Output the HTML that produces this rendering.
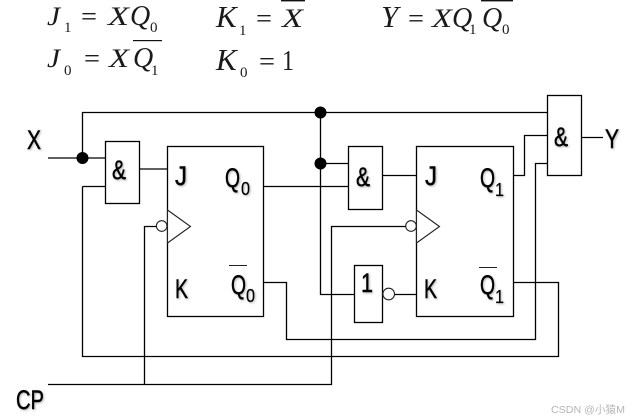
<!DOCTYPE html>
<html><head><meta charset="utf-8"><style>
html,body{margin:0;padding:0;background:#fff}
svg{display:block}
.e{font-family:"Liberation Serif",serif;font-size:26px;fill:#1a1a1a}
.q{font-family:"Liberation Serif",serif;font-size:28px;fill:#1a1a1a}
.k{font-family:"Liberation Serif",serif;font-size:31px;fill:#1a1a1a}
.i{font-style:italic}
.s{font-family:"Liberation Serif",serif;font-size:15px;fill:#1a1a1a}
.l{font-family:"Liberation Sans",sans-serif;fill:#000;font-size:27px;stroke:#000;stroke-width:.45}
.b{font-family:"Liberation Sans",sans-serif;fill:#000;font-size:18px;stroke:#000;stroke-width:.2}
.sh{filter:drop-shadow(1px 1px 1px rgba(0,0,0,.3))}
</style></head><body>
<svg width="633" height="420" viewBox="0 0 633 420" xmlns="http://www.w3.org/2000/svg">
<rect width="633" height="420" fill="#fff"/>
<g fill="none" stroke="#000" stroke-width="1.3">
<rect x="167.5" y="146.5" width="96" height="170"/>
<rect x="416.5" y="146.5" width="97" height="170"/>
<rect x="105.5" y="141.5" width="34" height="62"/>
<rect x="348.5" y="146.5" width="34" height="63"/>
<rect x="547.5" y="95.5" width="34" height="80"/>
<rect x="354.5" y="265.5" width="28" height="57"/>
<path d="M48 158H105.5M139.5 169H167.5M82.5 158V112.5H547.5M82.5 186.5H105.5M82.5 186.5V356.5H558.5V282.5H513.5"/>
<path d="M320.5 112.5V294.5H354.5M320.5 163.5H348.5M263.5 186.5H348.5M382.5 175.5H416.5"/>
<path d="M513.5 175.5H524.5V135.5H547.5M547.5 163.5H535.5V339.5H286.5V282.5H263.5"/>
<path d="M581.5 137.5H603M394.5 294.5H416.5"/>
<path d="M48 384.5H331.5V226.5H405.5M144.5 384.5V226.5H156.5"/>
</g>
<g fill="#fff" stroke="#222" stroke-width="1.1">
<path d="M167.5 210L190.5 226.5L167.5 243Z"/>
<path d="M416.5 210L439.5 226.5L416.5 243Z"/>
<circle cx="161.7" cy="226" r="5.3"/>
<circle cx="411" cy="226" r="5.3"/>
<circle cx="388.7" cy="294" r="5.8"/>
</g>
<g fill="#000">
<circle cx="82.5" cy="158" r="6"/>
<circle cx="320.5" cy="112.5" r="6"/>
<circle cx="320.5" cy="163.5" r="6"/>
</g>

<!-- equations -->
<text class="e i" x="47" y="25" textLength="13" lengthAdjust="spacingAndGlyphs">J</text><text class="s" x="64" y="32">1</text>
<text class="e" x="81" y="25" textLength="16" lengthAdjust="spacingAndGlyphs">=</text>
<text class="e i" x="108" y="25" textLength="21" lengthAdjust="spacingAndGlyphs">X</text><text class="q i" x="130" y="25">Q</text><text class="s" x="150" y="32">0</text>
<text class="k i" x="216" y="27">K</text><text class="s" x="239" y="35">1</text>
<text class="e" x="256" y="27" textLength="16" lengthAdjust="spacingAndGlyphs">=</text>
<text class="e i" x="282" y="27" textLength="21" lengthAdjust="spacingAndGlyphs">X</text>
<rect x="281" y="0" width="24" height="1.4" fill="#111"/>
<text class="e i" x="47" y="67" textLength="13" lengthAdjust="spacingAndGlyphs">J</text><text class="s" x="64" y="75">0</text>
<text class="e" x="84" y="67" textLength="16" lengthAdjust="spacingAndGlyphs">=</text>
<text class="e i" x="109" y="67" textLength="20" lengthAdjust="spacingAndGlyphs">X</text><text class="q i" x="133" y="67">Q</text><text class="s" x="151" y="75">1</text>
<rect x="133" y="40" width="29" height="1.2" fill="#111"/>
<text class="k i" x="216" y="70">K</text><text class="s" x="240" y="77">0</text>
<text class="e" x="259" y="70" textLength="16" lengthAdjust="spacingAndGlyphs">=</text>
<text class="q" x="282" y="70" textLength="12" lengthAdjust="spacingAndGlyphs">1</text>
<text class="k i" x="381" y="27">Y</text>
<text class="e" x="408" y="27" textLength="16" lengthAdjust="spacingAndGlyphs">=</text>
<text class="e i" x="432" y="27" textLength="20" lengthAdjust="spacingAndGlyphs">X</text><text class="q i" x="452" y="27">Q</text><text class="s" x="469" y="34">1</text>
<text class="q i" x="482" y="27">Q</text><text class="s" x="502" y="34">0</text>
<rect x="481" y="0" width="32" height="1.4" fill="#111"/>

<!-- labels -->
<g class="sh">
<text class="l" x="27" y="149" textLength="14" lengthAdjust="spacingAndGlyphs">X</text>
<text class="l" x="16" y="409" textLength="28" lengthAdjust="spacingAndGlyphs">CP</text>
<text class="l" x="605" y="148" textLength="14" lengthAdjust="spacingAndGlyphs">Y</text>
<text class="l" x="112" y="179" textLength="14" lengthAdjust="spacingAndGlyphs">&amp;</text>
<text class="l" x="356" y="186" textLength="14" lengthAdjust="spacingAndGlyphs">&amp;</text>
<text class="l" x="554" y="146" textLength="14" lengthAdjust="spacingAndGlyphs">&amp;</text>
<text class="l" x="361" y="292" textLength="12" lengthAdjust="spacingAndGlyphs">1</text>
<text class="l" x="175" y="185" textLength="12" lengthAdjust="spacingAndGlyphs">J</text>
<text class="l" x="425" y="185" textLength="12" lengthAdjust="spacingAndGlyphs">J</text>
<text class="l" x="175" y="298" textLength="13" lengthAdjust="spacingAndGlyphs">K</text>
<text class="l" x="424" y="298" textLength="13" lengthAdjust="spacingAndGlyphs">K</text>
<text class="l" x="225" y="187" textLength="15" lengthAdjust="spacingAndGlyphs">Q</text><text class="b" x="241" y="195" textLength="9" lengthAdjust="spacingAndGlyphs">0</text>
<text class="l" x="480" y="187" textLength="15" lengthAdjust="spacingAndGlyphs">Q</text><text class="b" x="495" y="196" textLength="9" lengthAdjust="spacingAndGlyphs">1</text>
<text class="l" x="231" y="294" textLength="15" lengthAdjust="spacingAndGlyphs">Q</text><text class="b" x="246" y="302" textLength="9" lengthAdjust="spacingAndGlyphs">0</text>
<text class="l" x="480" y="294" textLength="15" lengthAdjust="spacingAndGlyphs">Q</text><text class="b" x="495" y="303" textLength="9" lengthAdjust="spacingAndGlyphs">1</text>
</g>
<rect x="229" y="265" width="18" height="1" fill="#222"/>
<rect x="479" y="267" width="18" height="1" fill="#222"/>

<text x="551" y="413" font-family="'Liberation Sans','Noto Sans CJK SC',sans-serif" font-size="10.5" fill="#b5b5b5" textLength="74" lengthAdjust="spacingAndGlyphs">CSDN @小猿M</text>
</svg>
</body></html>
